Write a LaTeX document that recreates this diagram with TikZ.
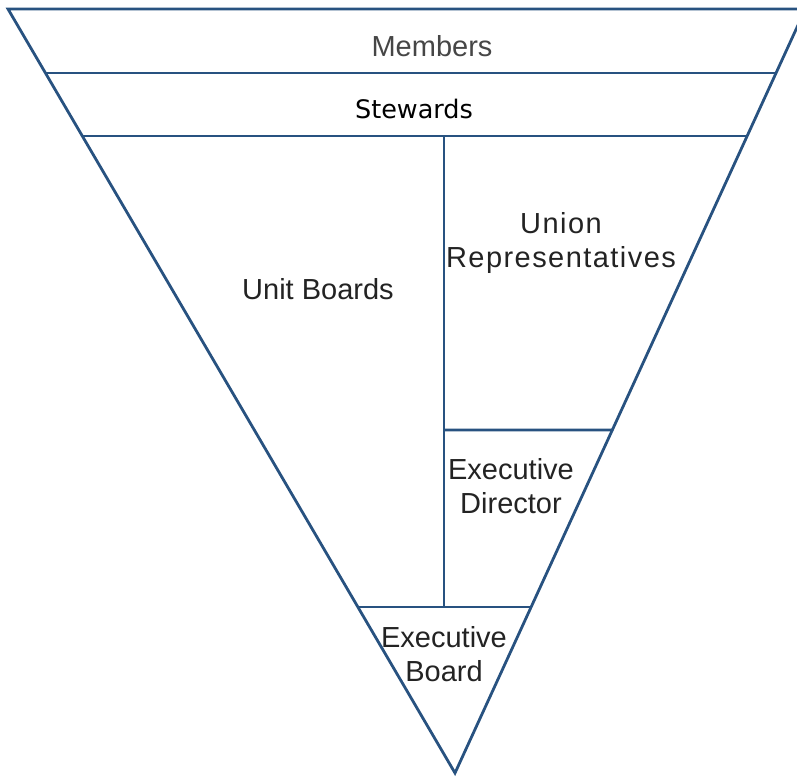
\documentclass[tikz,border=0pt]{standalone}
\usepackage{fontspec}
\setmainfont{Liberation Sans}
\newfontfamily\verdanalike{DejaVu Sans}
\usetikzlibrary{calc}
\definecolor{edgeblue}{RGB}{40,82,128}
\definecolor{labelgray}{RGB}{35,35,35}
\definecolor{topgray}{RGB}{70,70,70}
\tikzset{
  frame/.style={draw=edgeblue, line width=2.8pt, line join=miter},
  level/.style={font=\fontsize{29}{34}\selectfont, text=labelgray, align=center, inner sep=0pt},
}
\begin{document}
\begin{tikzpicture}[x=1pt, y=-1pt]
  \useasboundingbox (0,0) rectangle (797,778);

  % corners of the inverted triangle
  \coordinate (TL) at (8,9);
  \coordinate (TR) at (805.4,9);
  \coordinate (A) at (455,773);

  % points where the tiers meet the sloped sides
  \coordinate (L1) at ($(TL)!{(73-9)/764}!(A)$);
  \coordinate (R1) at ($(TR)!{(73-9)/764}!(A)$);
  \coordinate (L2) at ($(TL)!{(136-9)/764}!(A)$);
  \coordinate (R2) at ($(TR)!{(136-9)/764}!(A)$);
  \coordinate (R3) at ($(TR)!{(430-9)/764}!(A)$);
  \coordinate (L4) at ($(TL)!{(607-9)/764}!(A)$);
  \coordinate (R4) at ($(TR)!{(607-9)/764}!(A)$);
  \coordinate (V1) at (444,136);
  \coordinate (V3) at (444,430);
  \coordinate (V4) at (444,607);

  % outline and dividers
  \draw[frame] (TL) -- (TR) -- (A) -- cycle;
  \draw[frame] (L1) -- (R1);
  \draw[frame] (L2) -- (R2);
  \draw[frame] (V1) -- (V4);
  \draw[frame] (V3) -- (R3);
  \draw[frame] (L4) -- (R4);

  % tier labels
  \node[level, text=topgray] (members) at (432,46) {Members};
  \node[level, font=\verdanalike\fontsize{25.5}{30}\selectfont, text=black] (stewards) at (414,109) {Stewards};
  \node[level] (unit) at (318,289) {Unit Boards};
  \node[level, font=\fontsize{29}{34}\addfontfeature{LetterSpace=5}\selectfont] (union) at (561,243) {Union\\Representatives};
  \node[level] (director) at (511,486) {Executive\\Director};
  \node[level] (board) at (444,654) {Executive\\Board};
\end{tikzpicture}
\end{document}
